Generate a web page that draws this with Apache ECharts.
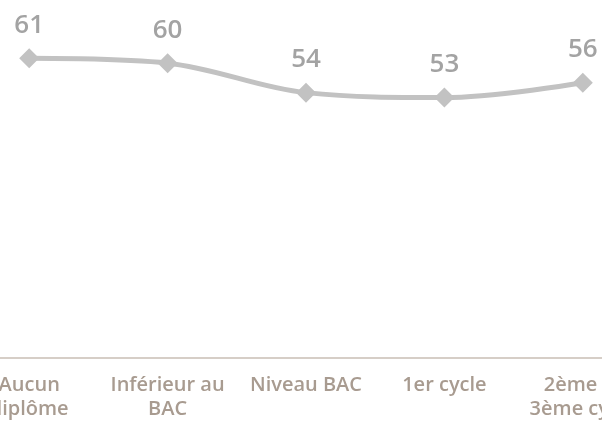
<!DOCTYPE html>
<html>
<head>
<meta charset="utf-8">
<script src="https://cdn.jsdelivr.net/npm/echarts@6/dist/echarts.min.js"></script>
<style>
  html, body { margin: 0; padding: 0; background: #fff; overflow: hidden; width: 602px; height: 422px; }
  /* the drawing is wider than the window: first and last categories are cut */
  #chart { position: absolute; left: -40px; top: 0; width: 692px; height: 422px; }
</style>
</head>
<body>
<div id="chart"></div>
<script>
// niveaux de diplôme
var categories = ['Aucun\ndiplôme', 'Inférieur au\nBAC', 'Niveau BAC', '1er cycle', '2ème et\n3ème cycle']
var values = [61, 60, 54, 53, 56]

var chart = echarts.init(document.getElementById('chart'))
var option = {
  animation: false,
  grid: {
    left: 0,
    right: 0,
    top: 14,
    bottom: 64,
    outerBoundsMode: 'none'
  },
  xAxis: {
    type: 'category',
    data: categories,
    boundaryGap: true,
    axisLine: { lineStyle: { color: '#c9beb5', width: 1.5 } },
    axisTick: { lineStyle: { color: '#b9aca2' }, length: 6 },
    axisLabel: {
      interval: 0,
      margin: 15,
      color: '#a89b90',
      fontFamily: 'Open Sans',
      fontWeight: 600,
      fontSize: 20,
      lineHeight: 24
    }
  },
  yAxis: {
    type: 'value',
    min: 0,
    max: 70,
    show: false
  },
  series: [
    {
      type: 'line',
      data: values,
      smooth: 0.35,
      symbol: 'diamond',
      symbolSize: 20,
      lineStyle: { color: '#c2c2c2', width: 5 },
      itemStyle: { color: '#c2c2c2' },
      label: {
        show: true,
        position: 'top',
        distance: 10,
        color: '#a3a3a3',
        fontFamily: 'Open Sans',
        fontWeight: 600,
        fontSize: 26
      }
    }
  ]
}
chart.setOption(option)
window.addEventListener('resize', function () { chart.resize() })
</script>
</body>
</html>
